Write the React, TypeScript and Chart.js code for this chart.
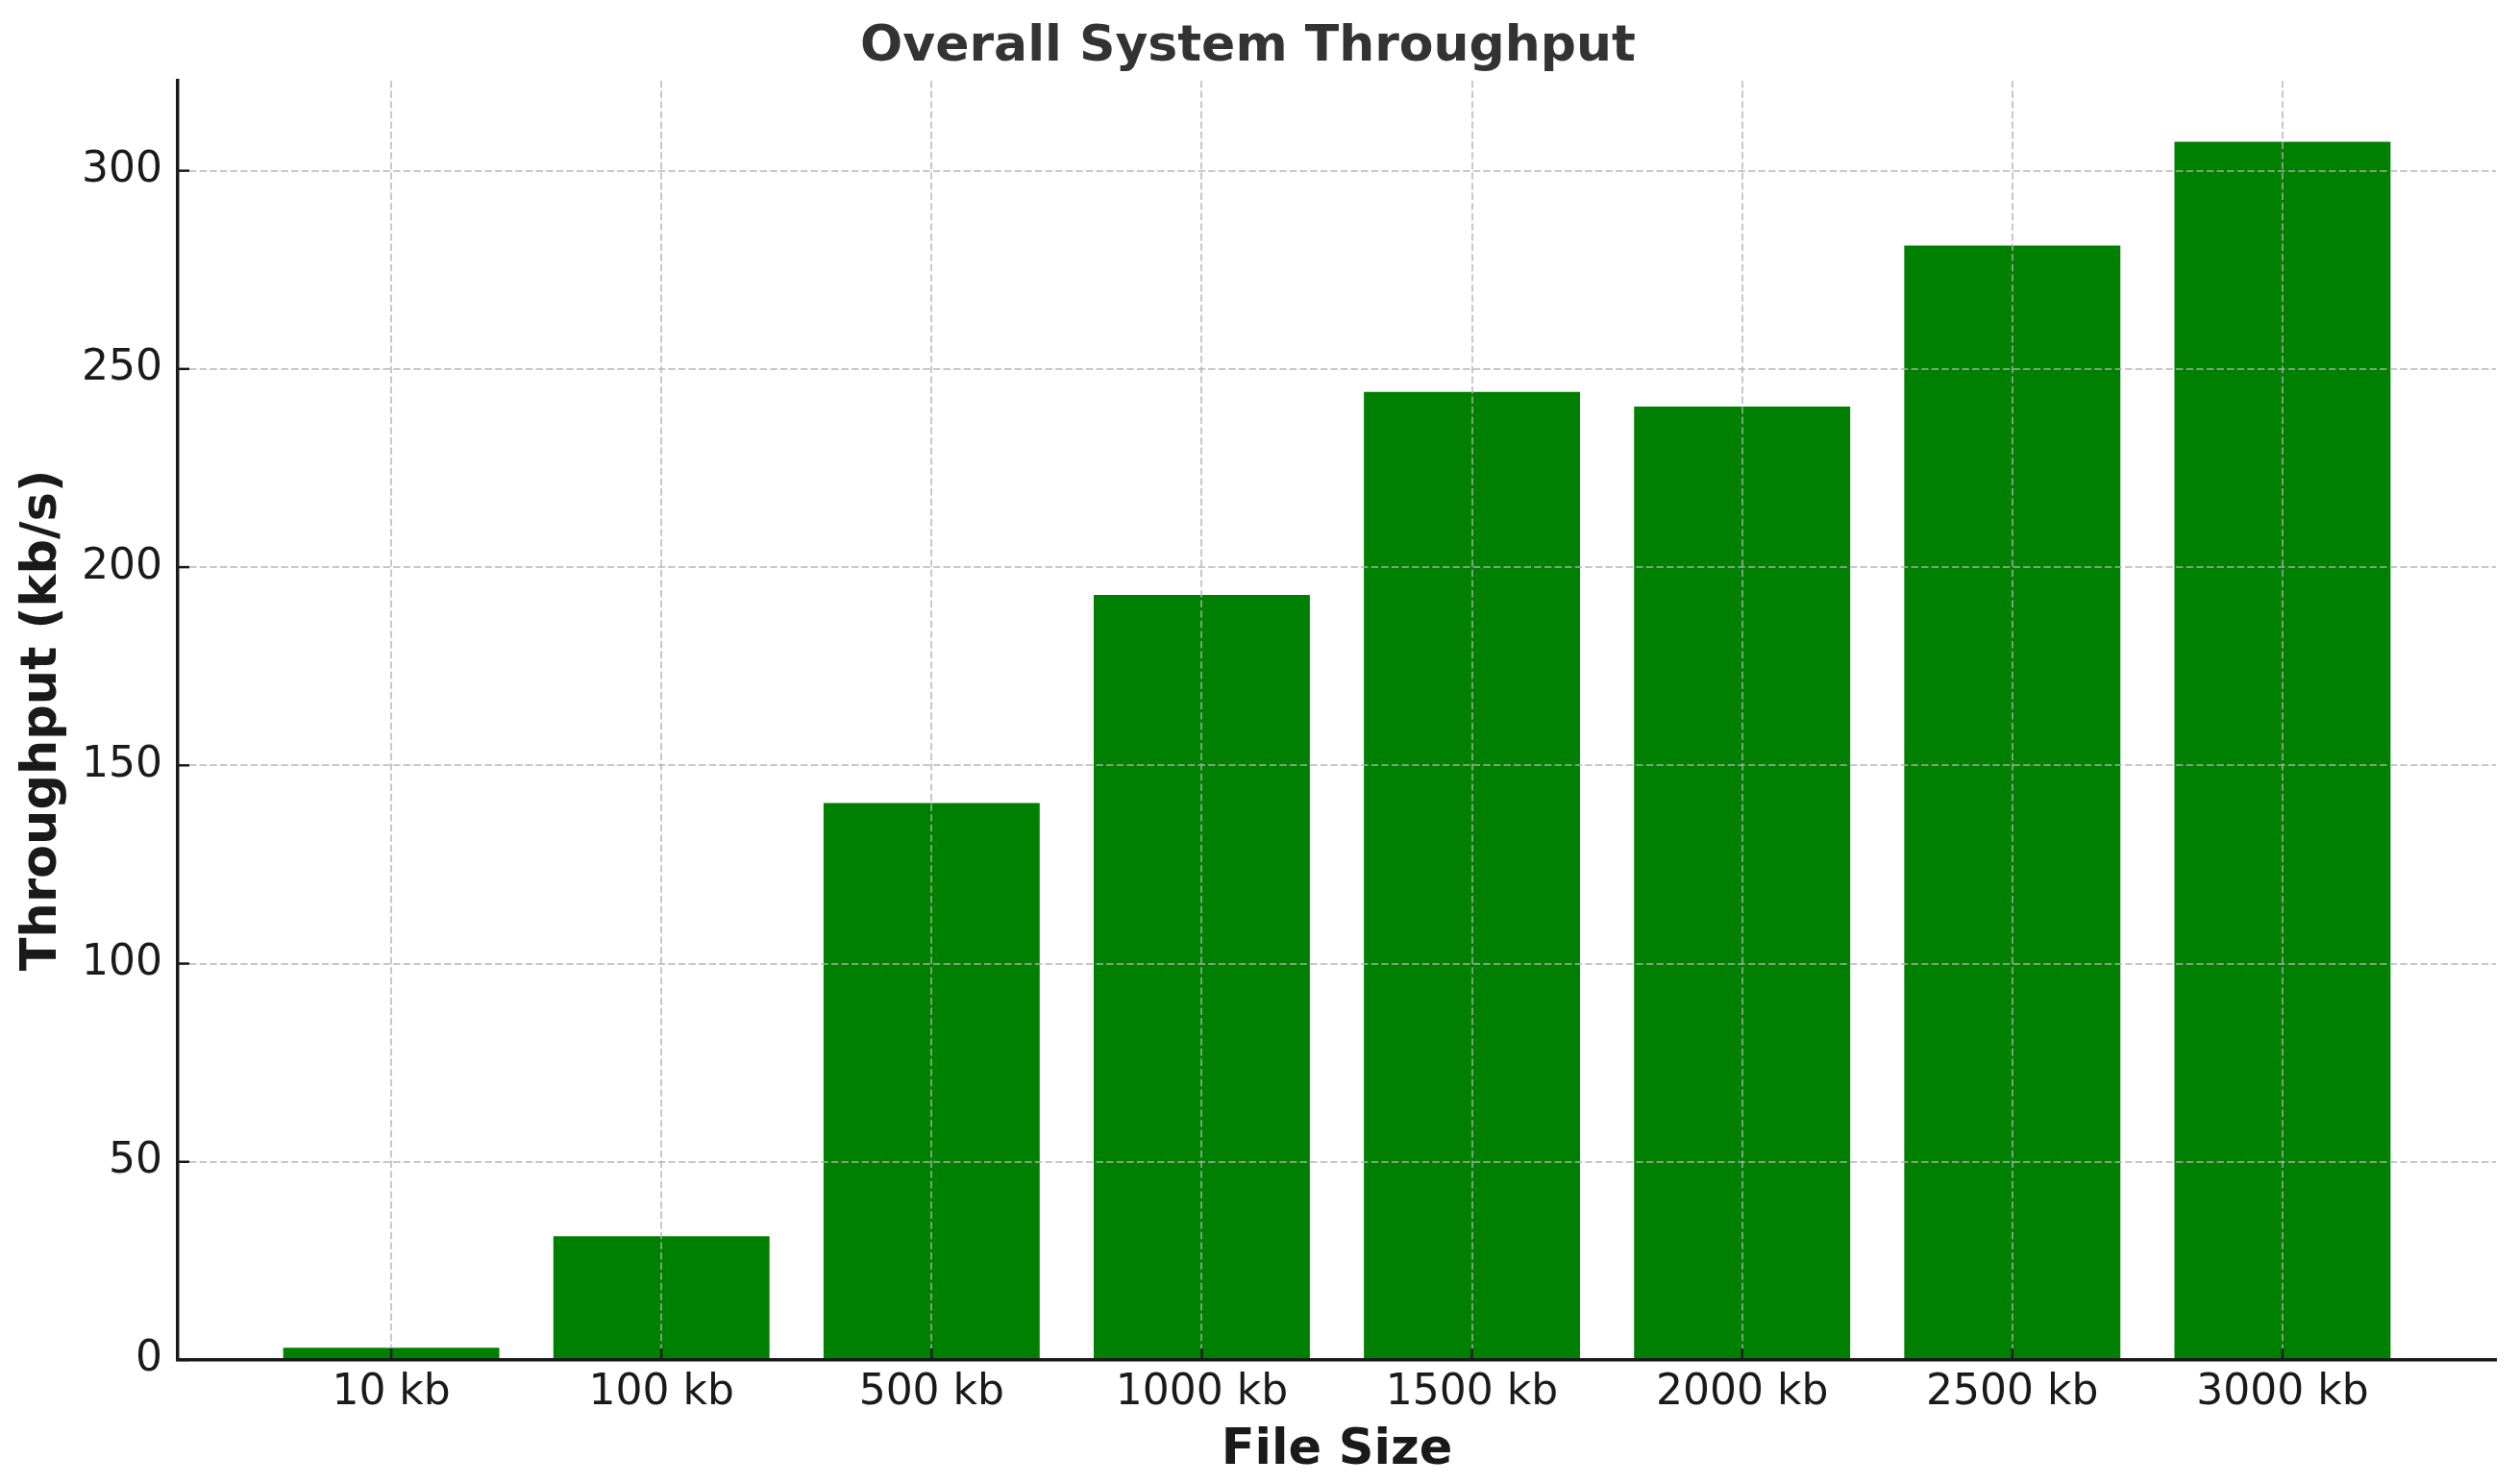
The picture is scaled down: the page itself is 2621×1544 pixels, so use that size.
import React, { useEffect, useRef } from "react";
import { Chart, registerables } from "chart.js";

Chart.register(...registerables);

const categories = ["10 kb", "100 kb", "500 kb", "1000 kb", "1500 kb", "2000 kb", "2500 kb", "3000 kb"];
const throughput = [3.1, 31.2, 140.5, 193.0, 244.2, 240.5, 281.1, 307.3];
const yTicks = [0, 50, 100, 150, 200, 250, 300];

const FONT = "DejaVu Sans";
const TEXT = "#1a1a1a";

const inwardTicks = {
  id: "inwardTicks",
  afterDraw(chart: any) {
    const { ctx, chartArea, scales } = chart;
    ctx.save();
    ctx.strokeStyle = TEXT;
    ctx.lineWidth = 2.5;
    ctx.setLineDash([]);
    scales.x.ticks.forEach((t: any) => {
      const x = scales.x.getPixelForValue(t.value);
      ctx.beginPath();
      ctx.moveTo(x, chartArea.bottom);
      ctx.lineTo(x, chartArea.bottom - 12);
      ctx.stroke();
    });
    scales.y.ticks.forEach((t: any) => {
      const y = scales.y.getPixelForValue(t.value);
      ctx.beginPath();
      ctx.moveTo(chartArea.left, y);
      ctx.lineTo(chartArea.left + 12, y);
      ctx.stroke();
    });
    ctx.restore();
  },
};

export default function App() {
  const ref = useRef<HTMLCanvasElement | null>(null);
  useEffect(() => {
    if (!ref.current) return;
    const chart = new Chart(ref.current, {
      type: "bar",
      data: {
        datasets: [
          {
            data: throughput.map((v, i) => ({ x: i, y: v })),
            backgroundColor: "#008000",
            barPercentage: 0.8,
            categoryPercentage: 1,
          },
        ],
      },
      options: {
        animation: false,
        responsive: false,
        devicePixelRatio: 1,
        layout: { padding: { top: 0, left: 0, right: 24, bottom: 0 } },
        plugins: {
          legend: { display: false },
          tooltip: { enabled: false },
          title: {
            display: true,
            text: "Overall System Throughput",
            color: "#333333",
            font: { family: FONT, size: 52, weight: "bold" },
            padding: { top: 18.2, bottom: 3.4 },
          },
        },
        scales: {
          x: {
            type: "linear",
            min: -0.79,
            max: 7.79,
            offset: false,
            z: 1,
            afterBuildTicks: (s: any) => {
              s.ticks = categories.map((_, i) => ({ value: i }));
            },
            afterFit: (s: any) => {
              s.height = 129;
            },
            ticks: {
              autoSkip: false,
              maxRotation: 0,
              minRotation: 0,
              padding: 8,
              color: TEXT,
              font: { family: FONT, size: 44 },
              callback: (v: any) => categories[v as number] ?? "",
            },
            grid: {
              offset: false,
              z: 1,
              color: "rgba(176,176,176,0.7)",
              lineWidth: 2,
              drawTicks: false,
            },
            border: { display: true, z: 2, color: TEXT, width: 3.5, dash: [7.4, 3.2] },
            title: {
              display: true,
              text: "File Size",
              color: TEXT,
              font: { family: FONT, size: 51, weight: "bold" },
              padding: { top: 0, bottom: 3.7 },
            },
          },
          y: {
            type: "linear",
            min: 0,
            max: 322.7,
            z: 1,
            afterBuildTicks: (s: any) => {
              s.ticks = yTicks.map((v) => ({ value: v }));
            },
            afterFit: (s: any) => {
              s.width = 185;
            },
            ticks: {
              padding: 16,
              color: TEXT,
              font: { family: FONT, size: 44 },
            },
            grid: {
              z: 1,
              color: "rgba(176,176,176,0.7)",
              lineWidth: 2,
              drawTicks: false,
            },
            border: { display: true, z: 2, color: TEXT, width: 3.5, dash: [7.4, 3.2] },
            title: {
              display: true,
              text: "Throughput (kb/s)",
              color: TEXT,
              font: { family: FONT, size: 51, weight: "bold" },
              padding: { top: 14.4, bottom: 0 },
            },
          },
        },
      } as any,
      plugins: [inwardTicks],
    });
    return () => chart.destroy();
  }, []);
  return (
    <div style={{ position: "absolute", left: 0, top: 0, width: 2621, height: 1544, background: "#fff" }}>
      <canvas ref={ref} width={2621} height={1544} style={{ display: "block", width: 2621, height: 1544 }} />
    </div>
  );
}
